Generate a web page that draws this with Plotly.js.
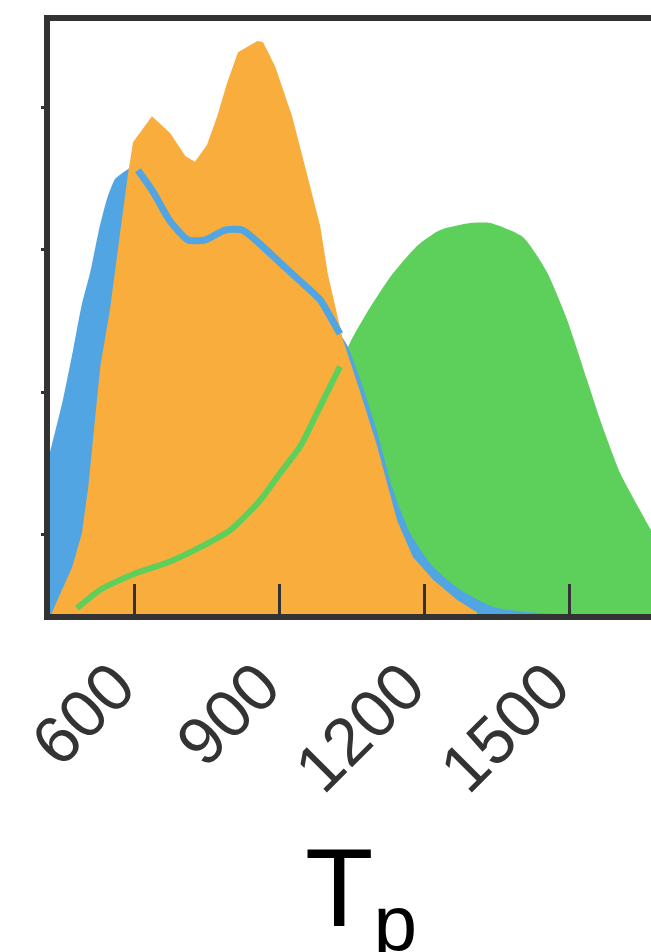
<!DOCTYPE html>
<html>
<head>
<meta charset="utf-8">
<script src="https://cdn.plot.ly/plotly-3.0.1.min.js"></script>
<style>
html, body { margin: 0; padding: 0; background: #fff; overflow: hidden; width: 651px; height: 952px; }
#chart { width: 710px; height: 952px; }
</style>
</head>
<body>
<div id="chart"></div>
<script>
// Tp values (x) and density-like heights (y) for each group
const orangeX = [430, 472, 492, 505, 530, 550, 571, 588, 598, 637, 675, 706, 726, 751, 772, 792, 815, 855, 867, 892, 927, 958, 985, 1001, 1032, 1068, 1103, 1144, 1177, 1219, 1268, 1310];
const orangeY = [0.01, 0.33, 0.57, 0.89, 1.74, 2.14, 2.68, 3.11, 3.32, 3.50, 3.38, 3.22, 3.18, 3.30, 3.50, 3.73, 3.95, 4.03, 4.02, 3.85, 3.50, 3.09, 2.73, 2.39, 1.93, 1.56, 1.18, 0.66, 0.40, 0.24, 0.10, 0.01];

const blueX = [426, 453, 474, 492, 509, 526, 544, 561, 588, 602, 608, 639, 675, 712, 747, 788, 824, 861, 902, 944, 985, 1006, 1026, 1041, 1068, 1103, 1136, 1171, 1219, 1275, 1343, 1426, 1471];
const blueY = [1.14, 1.51, 1.86, 2.18, 2.40, 2.68, 2.92, 3.06, 3.13, 3.16, 3.12, 2.97, 2.76, 2.63, 2.63, 2.70, 2.70, 2.60, 2.47, 2.34, 2.21, 2.09, 1.97, 1.89, 1.65, 1.28, 0.87, 0.57, 0.33, 0.17, 0.05, 0.01, 0.0];

const greenX = [482, 530, 598, 668, 737, 799, 861, 902, 944, 985, 1026, 1047, 1082, 1130, 1186, 1233, 1295, 1337, 1405, 1455, 1496, 1537, 1564, 1606, 1647, 1670, 1700];
const greenY = [0.04, 0.17, 0.28, 0.36, 0.47, 0.59, 0.80, 0.99, 1.18, 1.46, 1.74, 1.91, 2.12, 2.37, 2.59, 2.70, 2.75, 2.75, 2.65, 2.40, 2.07, 1.65, 1.37, 0.99, 0.73, 0.59, 0.45];

const xTicks = [600, 900, 1200, 1500];

const ORANGE = '#F9AD3C', BLUE = '#50A5E2', GREEN = '#5DCF5B', FRAME = '#333333';

function sub(xs, ys, lo, hi) {
  const ox = [], oy = [];
  xs.forEach((x, i) => { if (x >= lo && x <= hi) { ox.push(x); oy.push(ys[i]); } });
  return {x: ox, y: oy};
}
const blueLine = sub(blueX, blueY, 606, 1030);
const greenLine = sub(greenX, greenY, 480, 1028);

const traces = [
  {x: greenX, y: greenY, type: 'scatter', mode: 'none', fill: 'tozeroy', fillcolor: GREEN, line: {shape: 'spline', smoothing: 0.6}, hoverinfo: 'skip'},
  {x: blueX, y: blueY, type: 'scatter', mode: 'none', fill: 'tozeroy', fillcolor: BLUE, line: {shape: 'spline', smoothing: 0.6}, hoverinfo: 'skip'},
  {x: orangeX, y: orangeY, type: 'scatter', mode: 'none', fill: 'tozeroy', fillcolor: ORANGE, hoverinfo: 'skip'},
  {x: greenLine.x, y: greenLine.y, type: 'scatter', mode: 'lines', line: {color: GREEN, width: 6, shape: 'spline', smoothing: 0.6}, hoverinfo: 'skip'},
  {x: blueLine.x, y: blueLine.y, type: 'scatter', mode: 'lines', line: {color: BLUE, width: 7, shape: 'spline', smoothing: 0.6}, hoverinfo: 'skip'}
];

const layout = {
  width: 710, height: 952,
  margin: {l: 50, r: 10, t: 21, b: 338},
  paper_bgcolor: '#ffffff', plot_bgcolor: '#ffffff',
  showlegend: false,
  xaxis: {
    range: [426, 1771],
    tickmode: 'array', tickvals: xTicks, ticktext: xTicks.map(String),
    ticks: 'inside', ticklen: 30, tickwidth: 3, tickcolor: FRAME,
    tickangle: -45,
    ticklabelshift: -19, ticklabelstandoff: 0,
    tickfont: {family: 'Liberation Sans, Arial, sans-serif', size: 67, color: FRAME},
    showline: true, mirror: true, linecolor: FRAME, linewidth: 6,
    showgrid: false, zeroline: false, fixedrange: true
  },
  yaxis: {
    range: [0, 4.17],
    tickmode: 'linear', tick0: 0.56, dtick: 1,
    ticks: 'outside', ticklen: 3, tickwidth: 3, tickcolor: FRAME,
    showticklabels: false,
    showline: true, mirror: true, linecolor: FRAME, linewidth: 6,
    showgrid: false, zeroline: false, fixedrange: true
  },
  annotations: [{
    text: 'T<sub>p</sub>', showarrow: false,
    xref: 'paper', yref: 'paper', x: 0.389, y: -0.3525,
    xanchor: 'left', yanchor: 'top',
    font: {family: 'Liberation Sans, Arial, sans-serif', size: 112, color: '#000000'}
  }]
};

Plotly.newPlot('chart', traces, layout, {staticPlot: true, displayModeBar: false});
</script>
</body>
</html>
